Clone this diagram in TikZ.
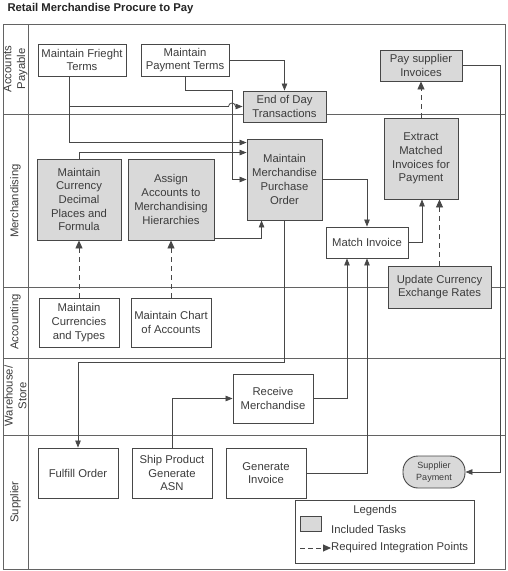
\documentclass[tikz,border=0pt]{standalone}
\usepackage{fontspec}
\setmainfont{Liberation Sans}
\usetikzlibrary{arrows.meta,calc}
\definecolor{ln}{HTML}{474747}
\definecolor{txt}{HTML}{3C3C3C}
\definecolor{taskfill}{HTML}{D9D9D9}
\begin{document}
\begin{tikzpicture}[x=1pt,y=-1pt,
  every node/.style={font=\fontsize{11.3}{13.7}\selectfont, text=txt},
  task/.style={draw=ln, line width=0.9pt, align=center, inner sep=1pt},
  inc/.style={task, fill=taskfill},
  sz/.style 2 args={minimum width=#1pt, minimum height=#2pt},
  conn/.style={draw=ln, line width=0.8pt, -{Triangle[length=7pt,width=5.5pt]}},
  integ/.style={draw=ln, line width=0.9pt, dash pattern=on 5pt off 4pt, -{Triangle[length=8pt,width=7pt]}},
  lane/.style={draw=ln!85, line width=0.9pt},
  lanelabel/.style={rotate=90, align=center}]

\fill[white] (0,0) rectangle (507,571);
\useasboundingbox (0,0) rectangle (507,571);

% title
\node[anchor=west, font=\bfseries\fontsize{11.3}{13}\selectfont, text=black!85] (title) at (4,9) {Retail Merchandise Procure to Pay};

% swimlanes
\draw[lane] (3,24) rectangle (505,569);
\draw[lane] (28,24) -- (28,569);
\draw[lane] (3,114) -- (505,114);
\draw[lane] (3,287) -- (505,287);
\draw[lane] (3,358) -- (505,358);
\draw[lane] (3,435) -- (505,435);

\node[lanelabel] (lap) at (15.5,69) {Accounts\\Payable};
\node[lanelabel] (lme) at (15.5,201) {Merchandising};
\node[lanelabel] (lac) at (15.5,322) {Accounting};
\node[lanelabel] (lws) at (15.5,396) {Warehouse/\\Store};
\node[lanelabel] (lsu) at (15.5,502) {Supplier};

% tasks
\node[task, sz={88}{32}, fill=white] (frt) at (82,60) {Maintain Frieght\\Terms};
\node[task, sz={88}{32}, fill=white] (pay) at (185,60) {Maintain\\Payment Terms};
\node[inc, sz={83}{31}] (eod) at (284.5,106.5) {End of Day\\Transactions};
\node[inc, sz={82}{31}] (psi) at (421,65.5) {Pay supplier\\Invoices};
\node[inc, sz={74}{81}] (ext) at (421,158.5) {Extract\\Matched\\Invoices for\\Payment};
\node[inc, sz={75}{81}] (po) at (284.5,179.5) {Maintain\\Merchandise\\Purchase\\Order};
\node[inc, sz={84}{81}] (mcd) at (79,199.5) {Maintain\\Currency\\Decimal\\Places and\\Formula};
\node[inc, sz={86}{81}] (aam) at (171,199.5) {Assign\\Accounts to\\Merchandising\\Hierarchies};
\node[task, sz={82}{31}, fill=white] (mi) at (367,242.5) {Match Invoice};
\node[inc, sz={103}{42}] (ucr) at (439.5,287) {Update Currency\\Exchange Rates};
\node[task, sz={80}{49}, fill=white] (mct) at (79,322.5) {Maintain\\Currencies\\and Types};
\node[task, sz={80}{49}, fill=white] (mca) at (171,322.5) {Maintain Chart\\of Accounts};
\node[task, sz={80}{49}, fill=white] (rm) at (273,398.5) {Receive\\Merchandise};
\node[task, sz={80}{50}, fill=white] (fo) at (78,473) {Fulfill Order};
\node[task, sz={80}{50}, fill=white] (sp) at (172,473) {Ship Product\\Generate\\ASN};
\node[task, sz={80}{50}, fill=white] (gi) at (266,473) {Generate\\Invoice};
\node[inc, sz={62}{32}, rounded corners=15pt, font=\fontsize{9}{11.5}\selectfont] (spay) at (434,472) {Supplier\\Payment};

% connectors
\draw[conn] (pay.east) -| (eod.north);
\draw[conn] (pay.south) |- (232,90) |- (po.west);
\coordinate (fb) at ($(frt.south)+(-13,0)$);
\draw[conn] (fb) |- ($(po.north west)+(0,4)$);
\draw[conn] (fb |- eod.west) -- (228.5,106.5) arc[start angle=180,end angle=360,radius=3.5] -- (eod.west);
\draw[conn] (mcd.north) |- ($(po.north west)+(0,14)$);
\draw[conn] ($(aam.south east)+(0,-2)$) -| ($(po.south west)+(15,0)$);
\draw[conn] (po.east) -| (mi.north);
\draw[conn] (mi.east) -| ($(ext.south)+(1,0)$);
\draw[integ] (ucr.north) -- (ucr.north |- ext.south);
\draw[integ] (ext.north) -- (psi.south);
\draw[conn] (psi.east) -- (500,65.5) |- (spay.east);
\draw[integ] (mct.north) -- (mcd.south);
\draw[integ] (mca.north) -- (aam.south);
\draw[conn] (po.south) |- ($(fo.north)+(0,-85)$) -- (fo.north);
\draw[conn] (sp.north) |- (rm.west);
\draw[conn] (rm.east) -| ($(mi.south)+(-20,0)$);
\draw[conn] (gi.east) -| (mi.south);

% legend
\node[draw=ln, line width=0.9pt, fill=white, sz={179}{63}] (leg) at (384.5,531.5) {};
\node (legt) at (375,511) {Legends};
\node[draw=ln, line width=0.9pt, fill=taskfill, sz={21}{15}, inner sep=0pt] (legbox) at (310.5,523.5) {};
\node[anchor=west, inner sep=0pt] (legi) at (331,529) {Included Tasks};
\coordinate (legs) at (300,548);
\node[anchor=west, inner sep=0pt] (legr) at (331,548) {Required Integration Points};
\draw[integ, dash pattern=on 5pt off 3pt] (legs) -- (legr.west);
\end{tikzpicture}
\end{document}
